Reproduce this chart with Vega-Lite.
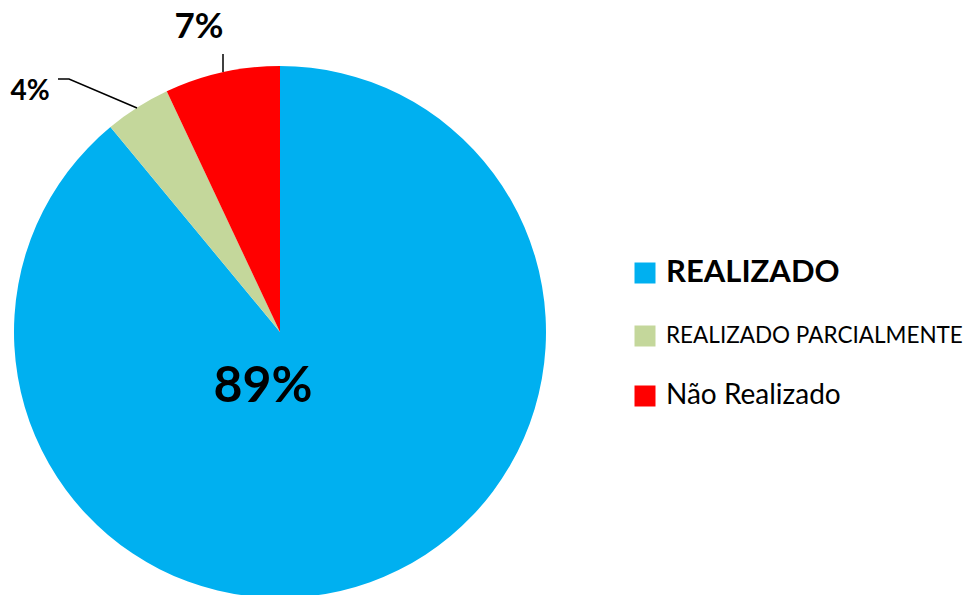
{
  "$schema": "https://vega.github.io/schema/vega-lite/v6.json",
  "width": 560,
  "height": 664,
  "padding": 0,
  "background": "white",
  "config": {"view": {"stroke": null}, "font": "Lato"},
  "datasets": {
    "slices": [
      {"category": "REALIZADO", "value": 89, "ord": 1},
      {"category": "REALIZADO PARCIALMENTE", "value": 4, "ord": 2},
      {"category": "Não Realizado", "value": 7, "ord": 3}
    ],
    "labels": [
      {"label": "89%", "lx": -17, "ly": -55, "size": 50},
      {"label": "7%", "lx": -81, "ly": 305, "size": 35},
      {"label": "4%", "lx": -250, "ly": 240, "size": 28}
    ],
    "leaders": [
      {"grp": "a", "seq": 1, "px": -57, "py": 278},
      {"grp": "a", "seq": 2, "px": -57, "py": 260},
      {"grp": "b", "seq": 1, "px": -222, "py": 253},
      {"grp": "b", "seq": 2, "px": -211, "py": 253},
      {"grp": "b", "seq": 3, "px": -143, "py": 224}
    ]
  },
  "layer": [
    {
      "data": {"name": "slices"},
      "mark": {"type": "arc", "outerRadius": 266, "stroke": null},
      "encoding": {
        "theta": {"field": "value", "type": "quantitative", "stack": true},
        "order": {"field": "ord", "type": "quantitative"},
        "color": {
          "field": "category",
          "type": "nominal",
          "scale": {
            "domain": ["REALIZADO", "REALIZADO PARCIALMENTE", "Não Realizado"],
            "range": ["#00B0F0", "#C4D79B", "#FF0000"]
          },
          "legend": {
            "title": null,
            "orient": "none",
            "legendX": 631,
            "legendY": 259,
            "padding": 0,
            "symbolType": "square",
            "symbolSize": 441,
            "symbolStrokeWidth": 0,
            "symbolOpacity": 1,
            "labelOffset": 7,
            "labelFont": "Lato",
            "labelColor": "black",
            "labelLimit": 0,
            "rowPadding": 34,
            "labelFontSize": {"expr": "datum.label == 'REALIZADO' ? 31 : datum.label == 'REALIZADO PARCIALMENTE' ? 22.5 : 28"},
            "labelFontWeight": {"expr": "datum.label == 'REALIZADO' ? 'bold' : 'normal'"}
          }
        }
      }
    },
    {
      "data": {"name": "leaders"},
      "mark": {"type": "line", "color": "black", "strokeWidth": 1.5},
      "encoding": {
        "x": {"field": "px", "type": "quantitative", "scale": {"domain": [-280, 280], "nice": false, "zero": false}, "axis": null},
        "y": {"field": "py", "type": "quantitative", "scale": {"domain": [-332, 332], "nice": false, "zero": false}, "axis": null},
        "detail": {"field": "grp"},
        "order": {"field": "seq", "type": "quantitative"}
      }
    },
    {
      "data": {"name": "labels"},
      "mark": {"type": "text", "fontWeight": "bold", "font": "Lato", "align": "center", "baseline": "middle", "color": "black"},
      "encoding": {
        "x": {"field": "lx", "type": "quantitative", "scale": {"domain": [-280, 280], "nice": false, "zero": false}, "axis": null},
        "y": {"field": "ly", "type": "quantitative", "scale": {"domain": [-332, 332], "nice": false, "zero": false}, "axis": null},
        "text": {"field": "label"},
        "size": {"field": "size", "type": "quantitative", "scale": null, "legend": null}
      }
    }
  ]
}
